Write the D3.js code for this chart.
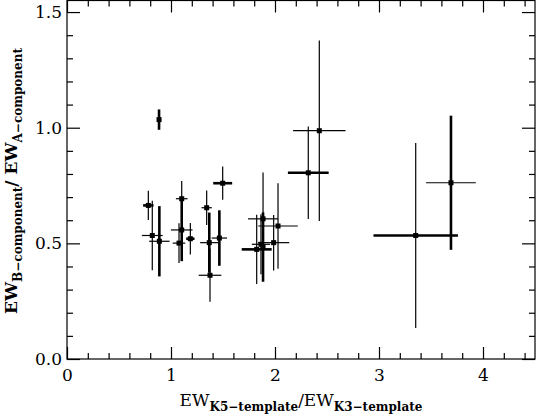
<!DOCTYPE html>
<html><head><meta charset="utf-8">
<script src="https://cdn.jsdelivr.net/npm/d3@7"></script>
<style>
html,body{margin:0;padding:0;background:#fff;}
svg{display:block;}
</style></head>
<body>
<script>
// Data
const xValues = [0.782,0.820,0.888,0.885,1.103,1.103,1.077,1.186,1.343,1.368,1.375,1.465,1.497,2.320,2.426,1.885,1.885,2.029,1.987,1.865,1.824,3.353,3.692];
const yValues = [0.664,0.534,0.509,1.035,0.693,0.558,0.501,0.520,0.654,0.503,0.362,0.523,0.760,0.805,0.987,0.606,0.484,0.575,0.503,0.496,0.474,0.534,0.762];
const xErrors = [0.050,0.100,0.098,0.020,0.056,0.104,0.060,0.040,0.050,0.088,0.109,0.074,0.091,0.196,0.252,0.144,0.020,0.190,0.150,0.088,0.144,0.406,0.239];
const yErrors = [0.063,0.150,0.152,0.044,0.077,0.135,0.086,0.068,0.075,0.130,0.115,0.120,0.072,0.200,0.390,0.200,0.150,0.185,0.120,0.130,0.150,0.400,0.290];
// 1 = heavy error bar, 0 = light error bar
const xErrHeavy = [1,0,0,0,0,0,0,1,0,0,0,0,1,1,0,0,0,0,0,0,1,1,0];
const yErrHeavy = [0,0,1,1,0,1,0,0,0,1,0,1,0,0,0,0,1,0,0,0,0,0,1];
const xTickLabels = ["0","1","2","3","4"];
const yTickLabels = ["0.0","0.5","1.0","1.5"];

const W = 536, H = 417;
const mLeft = 67, mRight = 535, mTop = 0.5, mBottom = 359;

const svg = d3.select("body").append("svg").attr("width", W).attr("height", H);

const x = d3.scaleLinear().domain([0, 4.5]).range([mLeft, mRight]);
const y = d3.scaleLinear().domain([0, 1.55]).range([mBottom, mTop]);

const serif = "'DejaVu Serif','Liberation Serif',serif";

// frame
svg.append("rect").attr("x", mLeft).attr("y", mTop).attr("width", mRight-mLeft).attr("height", mBottom-mTop)
  .attr("fill","none").attr("stroke","#000").attr("stroke-width",1.2);

const xMajor = xTickLabels.map(Number);
const xMinor = d3.range(0, 4.5001, 0.2).filter(v => Math.abs(v - Math.round(v)) > 1e-6);
const yMajor = yTickLabels.map(Number);
const yMinor = d3.range(0, 1.5501, 0.1).filter(v => Math.abs(v*2 - Math.round(v*2)) > 1e-6);

function styleAxis(g){ g.select(".domain").remove(); g.selectAll("line").attr("stroke","#000").attr("stroke-width",1.2); }

// bottom
svg.append("g").attr("transform",`translate(0,${mBottom})`)
  .call(d3.axisBottom(x).tickValues(xMajor).tickSize(-12).tickFormat((d,i)=>xTickLabels[i]))
  .call(styleAxis)
  .call(g=>g.selectAll("text").attr("font-family",serif).attr("font-size",17).attr("fill","#000").attr("dy","0.75em").attr("y",9));
svg.append("g").attr("transform",`translate(0,${mBottom})`)
  .call(d3.axisBottom(x).tickValues(xMinor).tickSize(-6).tickFormat(""))
  .call(styleAxis);
// top
svg.append("g").attr("transform",`translate(0,${mTop})`)
  .call(d3.axisTop(x).tickValues(xMajor).tickSize(-12).tickFormat(""))
  .call(styleAxis);
svg.append("g").attr("transform",`translate(0,${mTop})`)
  .call(d3.axisTop(x).tickValues(xMinor).tickSize(-6).tickFormat(""))
  .call(styleAxis);
// left
svg.append("g").attr("transform",`translate(${mLeft},0)`)
  .call(d3.axisLeft(y).tickValues(yMajor).tickSize(-13).tickFormat((d,i)=>yTickLabels[i]))
  .call(styleAxis)
  .call(g=>g.selectAll("text").attr("font-family",serif).attr("font-size",17).attr("fill","#000").attr("x",-5));
svg.append("g").attr("transform",`translate(${mLeft},0)`)
  .call(d3.axisLeft(y).tickValues(yMinor).tickSize(-6).tickFormat(""))
  .call(styleAxis);
// right
svg.append("g").attr("transform",`translate(${mRight},0)`)
  .call(d3.axisRight(y).tickValues(yMajor).tickSize(-13).tickFormat(""))
  .call(styleAxis);
svg.append("g").attr("transform",`translate(${mRight},0)`)
  .call(d3.axisRight(y).tickValues(yMinor).tickSize(-6).tickFormat(""))
  .call(styleAxis);

// data
const pts = xValues.map((v,i)=>({x:v, y:yValues[i], xe:xErrors[i], ye:yErrors[i], xh:xErrHeavy[i], yh:yErrHeavy[i]}));
const g = svg.append("g");
g.selectAll("line.xe").data(pts).join("line").attr("class","xe")
  .attr("x1",d=>x(d.x-d.xe)).attr("x2",d=>x(d.x+d.xe))
  .attr("y1",d=>y(d.y)).attr("y2",d=>y(d.y))
  .attr("stroke","#000").attr("stroke-width",d=>d.xh?2.6:1.2);
g.selectAll("line.ye").data(pts).join("line").attr("class","ye")
  .attr("x1",d=>x(d.x)).attr("x2",d=>x(d.x))
  .attr("y1",d=>y(d.y-d.ye)).attr("y2",d=>y(d.y+d.ye))
  .attr("stroke","#000").attr("stroke-width",d=>d.yh?2.6:1.2);
const ms = 5;
g.selectAll("rect.pt").data(pts).join("rect").attr("class","pt")
  .attr("x",d=>x(d.x)-ms/2).attr("y",d=>y(d.y)-ms/2)
  .attr("width",ms).attr("height",ms).attr("fill","#000");

// axis titles
const xt = svg.append("text").attr("x",301).attr("y",406)
  .attr("text-anchor","middle").attr("font-family",serif).attr("font-size",17).attr("fill","#000");
xt.append("tspan").text("EW");
xt.append("tspan").attr("font-size",12).attr("font-weight","bold").attr("dy",5).text("K5−template");
xt.append("tspan").attr("dy",-5).text("/EW");
xt.append("tspan").attr("font-size",12).attr("font-weight","bold").attr("dy",5).text("K3−template");

const yt = svg.append("text").attr("transform","translate(17,181) rotate(-90)")
  .attr("text-anchor","middle").attr("font-family",serif).attr("font-size",17).attr("font-weight","bold").attr("fill","#000");
yt.append("tspan").text("EW");
yt.append("tspan").attr("font-size",12).attr("dy",5).text("B−component");
yt.append("tspan").attr("dy",-5).text("/ EW");
yt.append("tspan").attr("font-size",12).attr("dy",5).text("A−component");
</script>
</body></html>
